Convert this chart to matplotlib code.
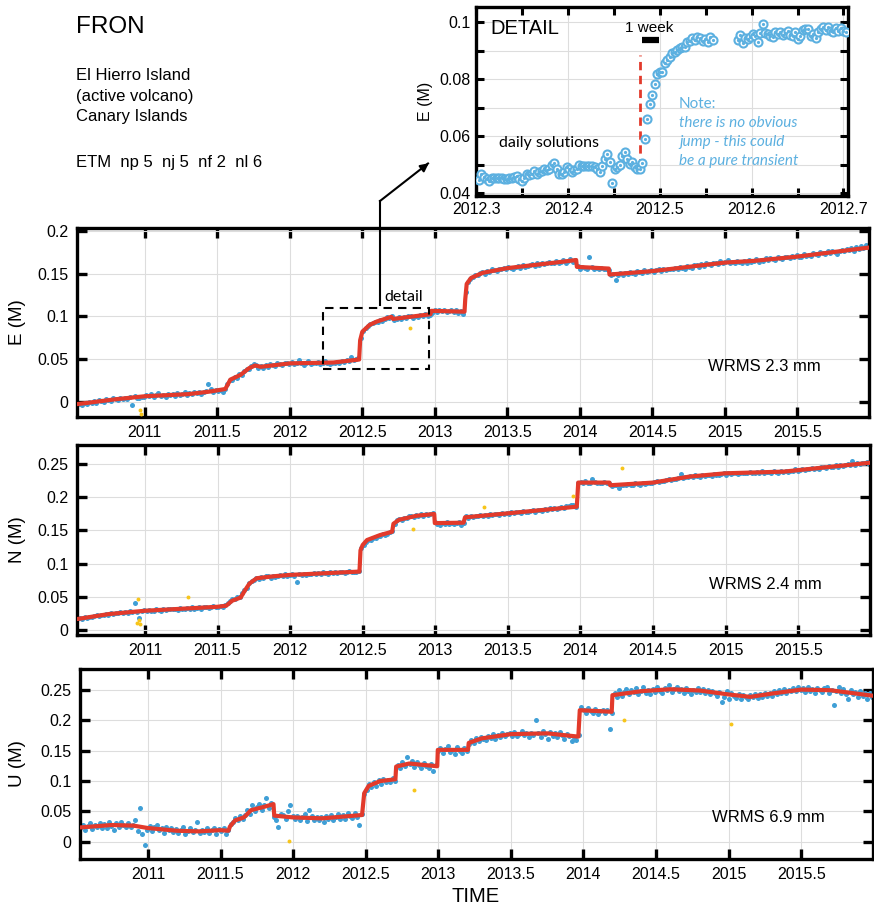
import numpy as np
import matplotlib
matplotlib.use("Agg")
from matplotlib import pyplot as plt
from matplotlib.lines import Line2D
from matplotlib.patches import Rectangle
from matplotlib.ticker import MultipleLocator, FormatStrFormatter

plt.rcParams['font.family'] = ['Liberation Sans', 'DejaVu Sans']

# GPS station FRON, solutions read every 6 days (mm)
t_start = 2010.535
step_days = 6

e_mm = [-3, -2, -4, -1, -2, 0, -1, 1, -1, 2,
        1, 0, 3, 2, 1, 4, 3, 2, 5, 3,
        5, 3, 6, -4, 7, 5, 4, 6, 6, 8,
        7, 9, 6, 8, 10, 7, 8, 6, 9, 8,
        9, 7, 10, 8, 9, 11, 8, 10, 9, 11,
        10, 12, 9, 11, 13, 21, 15, 12, 14, 13,
        14, 12, 15, 21, 26, 25, 29, 28, 32, 31,
        36, 38, 38, 42, 44, 43, 40, 42, 40, 43,
        41, 44, 43, 42, 46, 44, 43, 46, 45, 44,
        47, 44, 46, 49, 45, 43, 46, 48, 44, 46,
        45, 47, 44, 46, 48, 45, 44, 46, 45, 47,
        46, 48, 47, 49, 48, 53, 49, 50, 51, 75,
        83, 86, 89, 91, 92, 94, 93, 96, 95, 97,
        99, 98, 100, 96, 97, 99, 97, 99, 98, 100,
        100, 98, 101, 99, 102, 100, 103, 101, 102, 104,
        107, 105, 108, 106, 107, 105, 106, 108, 105, 107,
        104, 106, 103, 128, 140, 144, 146, 148, 149, 151,
        152, 150, 153, 152, 155, 154, 153, 156, 155, 157,
        156, 158, 157, 155, 158, 159, 157, 160, 158, 159,
        160, 161, 159, 162, 160, 162, 161, 163, 164, 162,
        163, 165, 162, 164, 166, 163, 165, 167, 164, 166,
        159, 156, 158, 157, 155, 169, 158, 156, 157, 155,
        157, 155, 156, 154, 148, 150, 143, 149, 151, 149,
        151, 150, 152, 151, 150, 153, 152, 151, 154, 152,
        153, 154, 152, 154, 155, 153, 155, 154, 156, 155,
        156, 157, 155, 158, 157, 156, 159, 158, 157, 160,
        160, 158, 161, 159, 162, 161, 160, 163, 162, 161,
        165, 162, 164, 166, 162, 164, 163, 165, 164, 162,
        165, 163, 166, 164, 165, 167, 164, 166, 165, 168,
        166, 168, 167, 166, 169, 168, 167, 170, 169, 168,
        171, 169, 172, 170, 169, 173, 171, 172, 171, 174,
        173, 172, 175, 174, 173, 176, 174, 177, 175, 173,
        177, 178, 176, 179, 178, 180, 177, 181, 179, 182,
        180, 184, 181]

n_mm = [16, 18, 17, 19, 18, 20, 19, 21, 22, 21,
        23, 22, 24, 23, 25, 24, 26, 25, 27, 25,
        27, 26, 28, 27, 40, 27, 18, 28, 30, 28,
        30, 28, 29, 31, 30, 29, 32, 30, 31, 32,
        31, 32, 30, 33, 32, 31, 33, 32, 34, 32,
        33, 34, 32, 34, 35, 33, 34, 36, 35, 34,
        36, 35, 37, 41, 43, 46, 47, 49, 50, 56,
        61, 64, 71, 74, 76, 78, 77, 80, 79, 81,
        81, 79, 82, 80, 82, 83, 81, 84, 82, 83,
        84, 82, 73, 85, 83, 84, 83, 85, 84, 86,
        85, 86, 84, 87, 86, 85, 87, 86, 88, 86,
        87, 88, 86, 87, 89, 87, 88, 87, 89, 124,
        128, 133, 135, 136, 138, 138, 141, 142, 144, 143,
        145, 147, 149, 160, 165, 167, 166, 169, 168, 171,
        172, 170, 173, 172, 174, 172, 175, 173, 174, 176,
        162, 160, 158, 161, 160, 162, 159, 161, 160, 161,
        162, 158, 161, 171, 169, 171, 170, 172, 171, 173,
        172, 173, 172, 174, 173, 175, 174, 173, 176, 175,
        176, 175, 177, 176, 178, 177, 176, 179, 178, 177,
        179, 180, 178, 181, 180, 179, 182, 181, 183, 182,
        183, 182, 184, 185, 183, 186, 187, 189, 188, 185,
        221, 223, 222, 224, 221, 222, 228, 223, 222, 221,
        222, 223, 221, 222, 217, 219, 218, 214, 219, 218,
        219, 220, 218, 219, 221, 220, 219, 221, 220, 222,
        222, 221, 223, 224, 223, 225, 224, 226, 227, 226,
        228, 227, 229, 235, 229, 231, 230, 232, 231, 233,
        232, 231, 233, 232, 234, 233, 232, 235, 234, 233,
        235, 237, 234, 236, 235, 237, 236, 235, 237, 236,
        237, 236, 238, 237, 236, 238, 237, 239, 237, 238,
        238, 237, 239, 238, 237, 239, 238, 240, 238, 239,
        240, 242, 239, 241, 242, 241, 243, 242, 244, 243,
        244, 243, 245, 246, 244, 247, 245, 246, 248, 246,
        248, 247, 249, 250, 248, 254, 249, 251, 250, 252,
        251, 253, 250]

u_mm = [22, 28, 19, 26, 31, 21, 27, 24, 30, 23,
        29, 22, 33, 26, 20, 30, 25, 32, 27, 24,
        31, 24, 28, 35, 18, 56, 12, -6, 20, 26,
        17, 24, 28, 19, 22, 15, 25, 19, 23, 16,
        21, 14, 19, 24, 13, 18, 22, 16, 20, 33,
        14, 20, 16, 22, 15, 19, 23, 13, 21, 17,
        22, 12, 19, 29, 33, 39, 35, 42, 38, 44,
        52, 45, 60, 50, 57, 63, 52, 61, 72, 55,
        64, 41, 36, 24, 45, 44, 38, 50, 60, 42,
        37, 43, 35, 41, 46, 34, 52, 43, 36, 40,
        35, 41, 33, 42, 38, 44, 36, 41, 46, 38,
        44, 37, 47, 43, 39, 48, 41, 28, 45, 78,
        86, 95, 90, 98, 92, 101, 96, 104, 98, 102,
        98, 105, 100, 127, 122, 131, 125, 140, 129, 133,
        124, 131, 127, 122, 130, 125, 121, 129, 116, 127,
        150, 155, 146, 153, 158, 148, 152, 144, 156, 149,
        147, 154, 150, 162, 168, 163, 171, 166, 173, 169,
        168, 175, 171, 177, 170, 176, 173, 179, 174, 177,
        180, 175, 181, 174, 178, 183, 176, 180, 173, 179,
        176, 200, 180, 173, 182, 177, 170, 181, 175, 179,
        172, 181, 176, 169, 178, 174, 166, 172, 168, 176,
        222, 218, 212, 220, 215, 213, 219, 210, 216, 218,
        212, 217, 186, 213, 246, 238, 250, 241, 247, 252,
        244, 251, 247, 253, 243, 249, 255, 246, 250, 244,
        252, 247, 256, 249, 245, 253, 250, 258, 247, 252,
        255, 248, 252, 246, 254, 249, 243, 251, 247, 253,
        247, 252, 245, 250, 243, 248, 246, 241, 247, 230,
        238, 248, 236, 245, 240, 237, 244, 235, 242, 238,
        236, 242, 239, 244, 237, 243, 239, 246, 241, 245,
        241, 248, 243, 250, 245, 252, 246, 251, 248, 254,
        248, 255, 250, 253, 247, 256, 249, 252, 246, 254,
        251, 247, 253, 255, 245, 251, 225, 249, 256, 246,
        252, 244, 236, 250, 243, 247, 238, 249, 241, 246,
        236, 245, 238]

# trajectory model (red line), knots: year / mm
e_fit_t = [2010.535, 2010.8, 2011.0, 2011.3, 2011.45, 2011.555, 2011.59, 2011.66,
           2011.72, 2011.76, 2011.8, 2012.0, 2012.3, 2012.478, 2012.485, 2012.5,
           2012.55, 2012.6, 2012.7, 2012.712, 2012.97, 2012.976, 2013.205, 2013.21,
           2013.22, 2013.25, 2013.33, 2013.5, 2013.88, 2013.975, 2013.98, 2014.2,
           2014.205, 2014.5, 2015.0, 2015.2, 2015.5, 2016.0]
e_fit_mm = [-2.7, 3, 6.5, 9, 12, 15, 26, 31.5, 39.5, 42.5, 41, 45, 46, 49.5, 72, 82,
            90, 94, 99.5, 97, 102.5, 106.5, 105.5, 120, 138, 145, 151, 156.5, 164,
            166, 158, 156, 149, 153, 163, 165, 170, 180.7]

n_fit_t = [2010.535, 2010.75, 2011.0, 2011.5, 2011.56, 2011.6, 2011.66, 2011.665,
           2011.69, 2011.72, 2011.77, 2011.89, 2012.0, 2012.478, 2012.485, 2012.5,
           2012.53, 2012.62, 2012.703, 2012.712, 2012.75, 2012.87, 2012.993, 2012.997,
           2013.195, 2013.205, 2013.5, 2013.975, 2013.985, 2014.2, 2014.205, 2014.5,
           2014.75, 2015.0, 2015.4, 2016.0]
n_fit_mm = [16.6, 24, 29, 35, 36.6, 44, 49, 51, 60, 70, 78, 81, 83, 88, 120, 128,
            135.5, 143, 148, 160, 166, 172, 174.7, 161, 161.6, 169.7, 175.7, 185.7,
            222, 222, 218, 222, 231, 236, 238.5, 252]

u_fit_t = [2010.535, 2010.75, 2010.9, 2011.0, 2011.2, 2011.35, 2011.5, 2011.555,
           2011.565, 2011.6, 2011.66, 2011.67, 2011.71, 2011.8, 2011.865, 2011.87,
           2012.0, 2012.2, 2012.475, 2012.49, 2012.52, 2012.6, 2012.705, 2012.71,
           2012.8, 2012.993, 2012.997, 2013.205, 2013.21, 2013.3, 2013.5, 2013.75,
           2013.965, 2013.975, 2014.195, 2014.2, 2014.4, 2014.6, 2014.8, 2015.0,
           2015.15, 2015.3, 2015.5, 2015.7, 2016.0]
u_fit_mm = [23.5, 27.5, 26.5, 22.5, 18, 17, 19, 18, 25, 35, 40, 42, 52, 57.5, 62, 43,
            40, 38.5, 44, 80, 92, 100, 103, 124, 129, 124.5, 151.5, 151.5, 163, 170.5,
            177.5, 178.8, 173.4, 217, 214.4, 241.8, 248.4, 251.6, 249.5, 243, 239,
            244.5, 251, 250, 240.7]

# rejected solutions (yellow)
e_out_t = [2010.965, 2010.975, 2012.83]
e_out_mm = [-9.5, -14, 86]
n_out_t = [2010.954, 2010.948, 2010.962, 2010.968, 2011.299, 2012.844, 2013.338,
           2013.947, 2014.287]
n_out_mm = [46.7, 10, 15, 8.6, 50, 152, 185, 202, 244]
u_out_t = [2011.975, 2012.834, 2014.283, 2015.014]
u_out_mm = [1, 85, 200, 194]

# detail: daily E solutions (day after 2012.3 / mm)
detail_day = list(range(1, 95)) + list(range(104, 148))
detail_mm = [44.5, 46.8, 45.6, 45.0, 44.3, 45.2, 45.4, 45.2, 45.4, 45.2,
             45.0, 45.0, 45.2, 45.4, 45.6, 46.0, 44.8, 44.3, 45.4, 46.6,
             46.3, 46.8, 47.7, 46.8, 47.4, 47.6, 48.6, 48.2, 48.6, 49.7,
             50.7, 48.6, 46.8, 46.8, 47.4, 49.1, 48.6, 47.4, 48.0, 48.6,
             49.7, 49.5, 49.5, 49.5, 49.5, 49.5, 49.1, 48.6, 47.4, 49.5,
             52.1, 53.6, 51.0, 43.5, 48.6, 49.1, 49.7, 53.0, 54.4, 52.1,
             50.3, 50.9, 49.1, 48.4, 48.6, 50.7, 59.1, 66.1, 71.4, 74.6,
             78.4, 81.7, 82.5, 82.5, 85.5, 86.6, 87.8, 89.0, 89.6, 90.2,
             90.8, 91.3, 91.3, 93.1, 93.5, 94.3, 93.7, 94.7, 94.3, 93.5,
             94.0, 93.1, 94.7, 93.7,
             93.7, 95.4, 92.8, 94.3, 93.9, 94.9, 95.8, 95.2, 93.1, 96.2,
             99.3, 96.2, 95.8, 95.2, 94.7, 96.4, 95.8, 96.6, 95.6, 96.2,
             96.8, 95.6, 95.2, 96.6, 93.9, 95.2, 97.1, 97.6, 97.7, 95.0,
             95.8, 94.3, 96.6, 97.6, 98.3, 97.4, 98.3, 96.8, 96.6, 98.0,
             97.0, 97.8, 96.8, 96.6]

blue = '#3f9fd6'
light_blue = '#5cb0e0'
red = '#e23a2b'
yellow = '#f7c51a'

W, H = 874, 910
fx = lambda x: x / W
fy = lambda y: 1 - y / H

fig = plt.figure(figsize=(W / 100, H / 100), dpi=100)

t_sol = t_start + np.arange(len(e_mm)) * step_days / 365.25


def panel(box, vals, fit_t, fit_mm, out_t, out_mm, ylim, yticks, label, wrms, wrms_y):
    ax = fig.add_axes([fx(box[0]), fy(box[3]), fx(box[2] - box[0]), (box[3] - box[1]) / H])
    ax.scatter(t_sol, np.array(vals) / 1000, s=13, color=blue, lw=0, zorder=2)
    ax.plot(fit_t, np.array(fit_mm) / 1000, color=red, lw=3, zorder=3,
            solid_joinstyle='round', solid_capstyle='round')
    ax.scatter(out_t, np.array(out_mm) / 1000, s=8, color=yellow, lw=0, zorder=4)
    ax.set_xlim(2010.532, 2015.995)
    ax.set_ylim(*ylim)
    ax.set_yticks(yticks)
    ax.set_xticks([2011, 2011.5, 2012, 2012.5, 2013, 2013.5, 2014, 2014.5, 2015, 2015.5])
    ax.xaxis.set_major_formatter(FormatStrFormatter('%g'))
    ax.yaxis.set_major_formatter(FormatStrFormatter('%g'))
    ax.tick_params(direction='in', length=7, width=2.4, top=True, right=True,
                   labelsize=11.5, pad=6)
    ax.grid(color='#dddddd', lw=0.8)
    ax.set_axisbelow(True)
    for s in ax.spines.values():
        s.set_linewidth(2.4)
    ax.text(0.797, wrms_y, wrms, transform=ax.transAxes, fontsize=12, va='center')
    ax.set_ylabel(label, fontsize=13.5)
    ax.yaxis.set_label_coords(-(box[0] - 26) / (box[2] - box[0]), 0.5)
    return ax


ax_e = panel((77, 228, 869, 417), e_mm, e_fit_t, e_fit_mm, e_out_t, e_out_mm,
             (-0.0178, 0.2035), [0, 0.05, 0.1, 0.15, 0.2], 'E (M)', 'WRMS 2.3 mm', 0.265)
ax_n = panel((77, 445, 870, 635), n_mm, n_fit_t, n_fit_mm, n_out_t, n_out_mm,
             (-0.0075, 0.2786), [0, 0.05, 0.1, 0.15, 0.2, 0.25], 'N (M)', 'WRMS 2.4 mm', 0.268)
ax_u = panel((80, 669, 873, 859), u_mm, u_fit_t, u_fit_mm, u_out_t, u_out_mm,
             (-0.0286, 0.285), [0, 0.05, 0.1, 0.15, 0.2, 0.25], 'U (M)', 'WRMS 6.9 mm', 0.216)

# detail box and pointer
ax_e.add_patch(Rectangle((2012.23, 0.0386), 0.73, 0.0714, fill=False, ec='black',
                         lw=1.5, ls=(0, (4, 3)), zorder=5))
ax_e.text(2012.655, 0.123, 'detail', fontsize=11.5, va='center',
          family=['Lato', 'DejaVu Sans'])
fig.add_artist(Line2D([fx(380), fx(380)], [fy(305), fy(201)], transform=fig.transFigure,
                      color='black', lw=1.5))
fig.add_artist(Line2D([fx(380), fx(428)], [fy(201), fy(163.5)], transform=fig.transFigure,
                      color='black', lw=1.5))
plt.annotate('', xy=(fx(431), fy(161.5)), xytext=(fx(420), fy(170)),
             xycoords='figure fraction',
             arrowprops=dict(arrowstyle='-|>', color='black', lw=1.5, mutation_scale=12))

fig.text(fx(476), fy(897), 'TIME', fontsize=14.5, ha='center', va='center')

# header
fig.text(fx(76), fy(27), 'FRON', fontsize=17.5, va='center')
for y, s in [(75, 'El Hierro Island'), (96, '(active volcano)'), (117, 'Canary Islands'),
             (162, 'ETM  np 5  nj 5  nf 2  nl 6')]:
    fig.text(fx(76), fy(y), s, fontsize=12, va='center')

# detail inset
ax_d = fig.add_axes([fx(476), fy(196), fx(848 - 476), (196 - 7) / H])
t_det = 2012.3 + np.array(detail_day) / 365.25
ax_d.plot(t_det, np.array(detail_mm) / 1000, 'o', ms=5.8, mfc='white', mec=light_blue,
          mew=1.5, zorder=3)
ax_d.plot(t_det, np.array(detail_mm) / 1000, 'o', ms=1.3, color=light_blue, zorder=4)
ax_d.plot([2012.478, 2012.478], [0.0493, 0.0885], color=red, lw=2, ls=(0, (3, 2)), zorder=2)
ax_d.plot([2012.48, 2012.4992], [0.0937, 0.0937], color='black', lw=4.5,
          solid_capstyle='butt')
ax_d.set_xlim(2012.2995, 2012.705)
ax_d.set_ylim(0.039, 0.1053)
ax_d.xaxis.set_major_locator(MultipleLocator(0.1))
ax_d.xaxis.set_minor_locator(MultipleLocator(0.05))
ax_d.yaxis.set_major_locator(MultipleLocator(0.02))
ax_d.yaxis.set_minor_locator(MultipleLocator(0.01))
ax_d.xaxis.set_major_formatter(FormatStrFormatter('%g'))
ax_d.yaxis.set_major_formatter(FormatStrFormatter('%g'))
ax_d.tick_params(which='both', direction='in', length=6, width=2.2, top=True, right=True,
                 labelsize=11.5, pad=4)
ax_d.grid(which='major', color='#dddddd', lw=0.8)
ax_d.grid(which='minor', axis='y', color='#dddddd', lw=0.8)
ax_d.set_axisbelow(True)
for s in ax_d.spines.values():
    s.set_linewidth(2.4)
ax_d.set_ylabel('E (M)', fontsize=11.5)
ax_d.yaxis.set_label_coords(-0.116, 0.5)
ax_d.text(0.038, 0.884, 'DETAIL', transform=ax_d.transAxes, fontsize=14.5, va='center')
ax_d.text(0.465, 0.889, '1 week', transform=ax_d.transAxes, fontsize=11, va='center',
          ha='center')
hum = ['Lato', 'DejaVu Sans']
ax_d.text(0.062, 0.28, 'daily solutions', transform=ax_d.transAxes, fontsize=11.5,
          va='center', family=hum)
ax_d.text(0.546, 0.487, 'Note:', transform=ax_d.transAxes, fontsize=11, va='center',
          color=light_blue, family=hum)
for y, s in [(0.386, 'there is no obvious'), (0.286, 'jump - this could'),
             (0.185, 'be a pure transient')]:
    ax_d.text(0.546, y, s, transform=ax_d.transAxes, fontsize=11, va='center',
              color=light_blue, style='italic', family=hum)

fig.savefig('out.png', dpi=100)
